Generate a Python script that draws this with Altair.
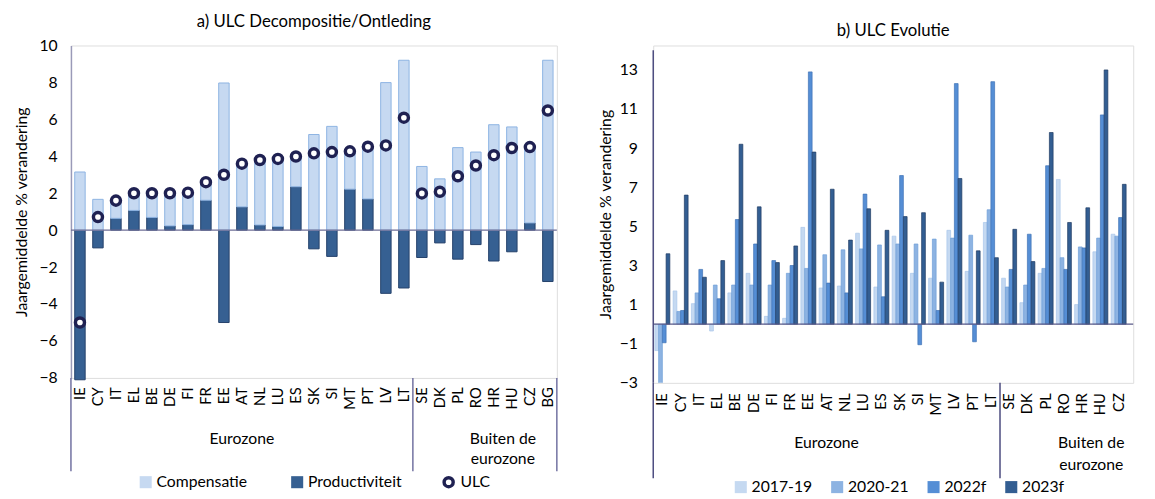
import altair as alt
import pandas as pd

FONT = "Lato"

# ---------------- data: panel a ----------------
countries_a = ["IE", "CY", "IT", "EL", "BE", "DE", "FI", "FR", "EE", "AT", "NL", "LU", "ES", "SK",
               "SI", "MT", "PT", "LV", "LT", "SE", "DK", "PL", "RO", "HR", "HU", "CZ", "BG"]
compensatie = [3.15, 1.67, 0.96, 0.93, 1.31, 1.77, 1.73, 0.98, 7.97, 2.34, 3.52, 3.66, 1.64, 5.18,
               5.62, 2.05, 2.83, 7.99, 9.2, 3.45, 2.78, 4.47, 4.23, 5.71, 5.59, 4.11, 9.2]
productiviteit = [-8.1, -0.96, 0.64, 1.07, 0.69, 0.23, 0.3, 1.62, -5.0, 1.26, 0.28, 0.2, 2.35, -1.01,
                  -1.42, 2.22, 1.69, -3.42, -3.13, -1.48, -0.69, -1.57, -0.78, -1.67, -1.17, 0.39, -2.78]
ulc = [-5.0, 0.71, 1.6, 2.0, 2.0, 2.0, 2.03, 2.6, 3.0, 3.6, 3.8, 3.86, 3.99, 4.16,
       4.23, 4.27, 4.52, 4.59, 6.09, 1.99, 2.08, 2.92, 3.5, 4.06, 4.45, 4.5, 6.48]

# ---------------- data: panel b ----------------
countries_b = ["IE", "CY", "IT", "EL", "BE", "DE", "FI", "FR", "EE", "AT", "NL", "LU", "ES", "SK",
               "SI", "MT", "LV", "PT", "LT", "SE", "DK", "PL", "RO", "HR", "HU", "CZ", "BG"]
series_b = ["2017-19", "2020-21", "2022f", "2023f"]
v_2017_19 = [-1.35, 1.7, 1.05, -0.35, 1.6, 2.6, 0.4, 0.3, 4.95, 1.85, 1.95, 4.65, 1.9, 4.5,
             2.6, 2.35, 4.8, 2.7, 5.2, 2.35, 1.1, 2.6, 7.4, 1.0, 3.7, 4.6, 6.35]
v_2020_21 = [-3.1, 0.65, 1.6, 2.0, 2.0, 2.0, 2.0, 2.6, 2.85, 3.55, 3.8, 3.85, 4.05, 4.1,
             4.1, 4.35, 4.4, 4.55, 5.85, 1.9, 2.0, 2.85, 3.4, 3.95, 4.4, 4.5, 6.25]
v_2022f = [-0.95, 0.7, 2.8, 1.3, 5.35, 4.1, 3.25, 3.0, 12.9, 2.1, 1.6, 6.65, 1.4, 7.6,
           -1.05, 0.7, 12.3, -0.9, 12.4, 2.8, 4.6, 8.1, 2.8, 3.9, 10.7, 5.45, None]
v_2023f = [3.6, 6.6, 2.4, 3.25, 9.2, 6.0, 3.15, 4.0, 8.8, 6.9, 4.3, 5.9, 4.8, 5.5,
           5.7, 2.15, 7.45, 3.75, 3.4, 4.85, 3.2, 9.8, 5.2, 5.95, 13.0, 7.15, None]

groups = ["Eurozone", "Buiten de\neurozone"]

# ---------------- layout constants ----------------
SA = 18.3
SB = 18.56
HA = 338
HB = 343
WA = round(27 * SA)
WB_FULL = round(27 * SB)
WB = 488

# ---------------- panel a ----------------
bars_a = pd.concat([
    pd.DataFrame({"country": countries_a, "series": "Productiviteit", "value": productiviteit, "ord": 0}),
    pd.DataFrame({"country": countries_a, "series": "Compensatie", "value": compensatie, "ord": 1}),
])
ulc_df = pd.DataFrame({"country": countries_a, "value": ulc, "lbl": "ULC"})
zero_df = pd.DataFrame({"value": [0]})

xA = alt.X("country:N", sort=countries_a,
           scale=alt.Scale(domain=countries_a, paddingInner=0.42, paddingOuter=0.21),
           axis=alt.Axis(title=None, labelAngle=270, labelFontSize=15, labelPadding=9,
                         ticks=False, domain=False, labelColor="black", labelFont=FONT))
yA_scale = alt.Scale(domain=[-8, 10], nice=False, zero=False)
yA_axis = alt.Axis(values=list(range(-8, 11, 2)), title="Jaargemiddelde % verandering",
                   titleFontSize=16, titleFontWeight="normal", titleFont=FONT, titleColor="black",
                   titlePadding=10, labelFontSize=16, labelFont=FONT, labelColor="black",
                   labelOverlap=False, labelBound=False, labelFlush=False,
                   labelPadding=14, ticks=False, grid=False, domainColor="#9a9ab8", domainWidth=1.5)

a_bars = alt.Chart(bars_a).mark_bar(strokeWidth=1).encode(
    x=xA,
    y=alt.Y("value:Q", stack="zero", scale=yA_scale, axis=yA_axis),
    color=alt.Color("series:N", scale=alt.Scale(domain=["Compensatie", "Productiviteit"],
                                                range=["#c6d9f1", "#366092"]),
                    legend=alt.Legend(orient="none", legendX=68, legendY=436, direction="horizontal",
                                      title=None, symbolType="square", symbolSize=150, labelFontSize=16,
                                      labelFont=FONT, labelColor="black", columnPadding=42, labelOffset=3,
                                      symbolStrokeWidth=0)),
    stroke=alt.Stroke("series:N", scale=alt.Scale(domain=["Compensatie", "Productiviteit"],
                                                  range=["#8db4e2", "#24406a"]), legend=None),
    order=alt.Order("ord:Q"),
)
a_zero = alt.Chart(zero_df).mark_rule(color="#6e6e96", strokeWidth=1.2).encode(
    y=alt.Y("value:Q", scale=yA_scale, axis=yA_axis))
a_pts = alt.Chart(ulc_df).mark_point(shape="circle", filled=False, fill="white", fillOpacity=1, opacity=1,
                                     strokeWidth=3.5, size=85).encode(
    x=xA,
    y=alt.Y("value:Q", scale=yA_scale, axis=yA_axis),
    stroke=alt.Stroke("lbl:N", scale=alt.Scale(domain=["ULC"], range=["#1f2152"]),
                      legend=alt.Legend(orient="none", legendX=376, legendY=436, title=None,
                                        symbolType="circle", symbolSize=85, symbolStrokeWidth=3.5,
                                        symbolFillColor="white", labelFontSize=16, labelFont=FONT,
                                        labelColor="black", labelOffset=4)),
)
sep_a_left = alt.Chart(pd.DataFrame({"country": ["IE", "SE"]})).mark_rule(
    color="#7070a0", strokeWidth=1.5, xOffset=-SA / 2).encode(x=xA, y=alt.value(HA), y2=alt.value(HA + 95))
sep_a_right = alt.Chart(pd.DataFrame({"country": ["BG"]})).mark_rule(
    color="#7070a0", strokeWidth=1.5, xOffset=SA / 2).encode(x=xA, y=alt.value(HA), y2=alt.value(HA + 95))
g_a1 = alt.Chart(pd.DataFrame({"country": ["AT"], "g": [groups[0]]})).mark_text(
    font=FONT, fontSize=16, baseline="top", lineBreak="\n", lineHeight=21, color="black").encode(
    x=xA, y=alt.value(392), text="g:N")
g_a2 = alt.Chart(pd.DataFrame({"country": ["HR"], "g": [groups[1]]})).mark_text(
    font=FONT, fontSize=16, baseline="top", lineBreak="\n", lineHeight=21, color="black", xOffset=SA / 2).encode(
    x=xA, y=alt.value(392), text="g:N")

panel_a = alt.layer(a_bars, a_zero, a_pts, sep_a_left, sep_a_right, g_a1, g_a2).resolve_scale(
    stroke="independent").resolve_legend(stroke="independent").properties(
    width=WA, height=HA,
    title=alt.TitleParams("a) ULC Decompositie/Ontleding", fontSize=17, font=FONT, fontWeight="normal",
                          anchor="middle", frame="group", offset=7, color="black"))

# ---------------- panel b ----------------
df_b = pd.concat([
    pd.DataFrame({"country": countries_b, "series": s, "value": v})
    for s, v in zip(series_b, [v_2017_19, v_2020_21, v_2022f, v_2023f])
])
# the last group (BG) lies beyond the right edge of the picture
visible_b = countries_b[:-1]
df_b = df_b.dropna()
df_b = df_b[df_b["country"].isin(visible_b)]

xB = alt.X("country:N", sort=countries_b,
           scale=alt.Scale(domain=countries_b, range=[0, WB_FULL], paddingInner=0.18, paddingOuter=0.09),
           axis=alt.Axis(title=None, labelAngle=270, labelFontSize=15, labelPadding=10,
                         values=visible_b,
                         ticks=False, domain=False, labelColor="black", labelFont=FONT))
yB_scale = alt.Scale(domain=[-3, 14.25], nice=False, zero=False)
yB_axis = alt.Axis(values=list(range(-3, 14, 2)), title="Jaargemiddelde % verandering",
                   titleFontSize=16, titleFontWeight="normal", titleFont=FONT, titleColor="black",
                   titlePadding=6, labelFontSize=16, labelFont=FONT, labelColor="black",
                   labelOverlap=False, labelBound=False, labelFlush=False, domain=False,
                   labelPadding=16, ticks=False, grid=False)

b_bars = alt.Chart(df_b).mark_bar(strokeWidth=0.7, clip=True).encode(
    x=xB,
    xOffset=alt.XOffset("series:N", sort=series_b, scale=alt.Scale(domain=series_b, paddingInner=0, paddingOuter=0)),
    y=alt.Y("value:Q", scale=yB_scale, axis=yB_axis),
    color=alt.Color("series:N", scale=alt.Scale(domain=series_b,
                                                range=["#c5d9f1", "#8db3e2", "#558ed5", "#335e92"]),
                    legend=alt.Legend(orient="none", legendX=81, legendY=441, direction="horizontal",
                                      title=None, symbolType="square", symbolSize=150, labelFontSize=16,
                                      labelFont=FONT, labelColor="black", columnPadding=17, labelOffset=3,
                                      symbolStrokeWidth=0)),
    stroke=alt.Stroke("series:N", scale=alt.Scale(domain=series_b,
                                                  range=["#a9c6ea", "#6f9fd8", "#3f72b5", "#1f3a62"]), legend=None),
)
b_zero = alt.Chart(zero_df).mark_rule(color="#5a5a88", strokeWidth=1.2).encode(
    y=alt.Y("value:Q", scale=yB_scale, axis=yB_axis))
b_axis = alt.Chart(pd.DataFrame({"value": [14], "bottom": [-3]})).mark_rule(
    color="#4a4a7e", strokeWidth=1.5).encode(x=alt.value(0), y=alt.Y("value:Q", scale=yB_scale, axis=yB_axis),
                                             y2="bottom:Q")
sep_b_left = alt.Chart(pd.DataFrame({"country": ["IE", "SE"]})).mark_rule(
    color="#4a4a7e", strokeWidth=1.5, xOffset=-SB / 2).encode(x=xB, y=alt.value(HB), y2=alt.value(HB + 97))
g_b1 = alt.Chart(pd.DataFrame({"country": ["AT"], "g": [groups[0]]})).mark_text(
    font=FONT, fontSize=16, baseline="top", lineBreak="\n", lineHeight=23, color="black").encode(
    x=xB, y=alt.value(396), text="g:N")
g_b2 = alt.Chart(pd.DataFrame({"country": ["HR"], "g": [groups[1]]})).mark_text(
    font=FONT, fontSize=16, baseline="top", lineBreak="\n", lineHeight=23, color="black", xOffset=SB / 2).encode(
    x=xB, y=alt.value(396), text="g:N")

panel_b = alt.layer(b_bars, b_zero, b_axis, sep_b_left, g_b1, g_b2).resolve_scale(
    stroke="independent").properties(
    width=WB, height=HB,
    title=alt.TitleParams("b) ULC Evolutie", fontSize=17, font=FONT, fontWeight="normal",
                          anchor="middle", frame="group", offset=6, color="black"))

chart = alt.hconcat(panel_a, panel_b, spacing=37).resolve_scale(
    color="independent", stroke="independent").resolve_legend(
    color="independent", stroke="independent").configure_view(stroke=None).configure(
    padding={"left": 4, "top": 0, "right": 0, "bottom": 0}, font=FONT)

chart.save("out.html", embed_options={"renderer": "svg", "actions": False})
